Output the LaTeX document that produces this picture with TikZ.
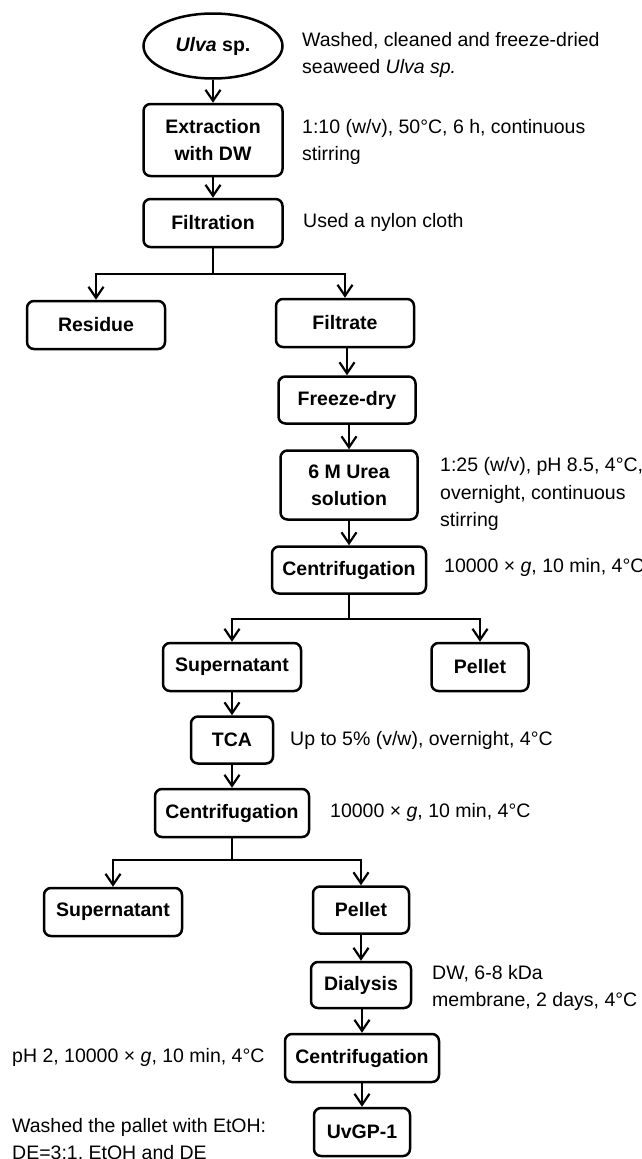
\documentclass[tikz,border=0pt]{standalone}
\usepackage{fontspec}
\setmainfont{Liberation Sans}
\usetikzlibrary{arrows.meta,shapes.geometric}
\begin{document}
\begin{tikzpicture}[x=1pt,y=-1pt,
  box/.style={draw,line width=2.5pt,rounded corners=7pt,inner sep=0pt,align=center,font=\bfseries\fontsize{19.5}{27}\selectfont},
  oval/.style={draw,ellipse,line width=2.5pt,inner sep=0pt,align=center,font=\bfseries\fontsize{19.5}{27}\selectfont},
  note/.style={anchor=west,inner sep=0pt,align=left,font=\fontsize{19.5}{27.5}\selectfont},
  arr/.style={line width=2.2pt,-{Straight Barb[length=11pt,width=15pt,line width=2.2pt]}},
  ln/.style={line width=2.2pt}]
\useasboundingbox (0,0) rectangle (642,1159);

% boxes
\node[oval,minimum width=139pt,minimum height=65pt] (ulva) at (213,46) {\textit{Ulva} sp.};
\node[box,minimum width=139pt,minimum height=72pt] (extr) at (213,140) {Extraction\\with DW};
\node[box,minimum width=139pt,minimum height=48pt] (filt) at (213,223) {Filtration};
\node[box,minimum width=138pt,minimum height=48pt] (resid) at (96,325) {Residue};
\node[box,minimum width=138pt,minimum height=48pt] (filtr) at (345,323) {Filtrate};
\node[box,minimum width=137pt,minimum height=47pt] (fdry) at (347,400) {Freeze-dry};
\node[box,minimum width=137pt,minimum height=69pt] (urea) at (349,485) {6 M Urea\\solution};
\node[box,minimum width=154pt,minimum height=47pt] (cent1) at (349,570) {Centrifugation};
\node[box,minimum width=138pt,minimum height=48pt] (sup1) at (232,667) {Supernatant};
\node[box,minimum width=97pt,minimum height=48pt] (pel1) at (480,667) {Pellet};
\node[box,minimum width=82pt,minimum height=47pt] (tca) at (232,740) {TCA};
\node[box,minimum width=154pt,minimum height=48pt] (cent2) at (232,813) {Centrifugation};
\node[box,minimum width=138pt,minimum height=48pt] (sup2) at (113,912) {Supernatant};
\node[box,minimum width=96pt,minimum height=47pt] (pel2) at (361,910) {Pellet};
\node[box,minimum width=100pt,minimum height=46pt] (dial) at (361,985) {Dialysis};
\node[box,minimum width=154pt,minimum height=48pt] (cent3) at (362,1058) {Centrifugation};
\node[box,minimum width=96pt,minimum height=48pt] (uvgp) at (362,1132) {UvGP-1};

% notes
\node[note] (n1) at (302,55) {Washed, cleaned and freeze-dried\\seaweed \textit{Ulva sp.}};
\node[note] (n2) at (302,142) {1:10 (w/v), 50°C, 6 h, continuous\\stirring};
\node[note] (n3) at (303,222) {Used a nylon cloth};
\node[note] (n4) at (440,494) {1:25 (w/v), pH 8.5, 4°C,\\overnight, continuous\\stirring};
\node[note] (n5) at (444,567) {10000 × \textit{g}, 10 min, 4°C};
\node[note] (n6) at (290,740) {Up to 5\% (v/w), overnight, 4°C};
\node[note] (n7) at (330,812) {10000 × \textit{g}, 10 min, 4°C};
\node[note] (n8) at (432,988) {DW, 6-8 kDa\\membrane, 2 days, 4°C};
\node[note] (n9) at (12,1057) {pH 2, 10000 × \textit{g}, 10 min, 4°C};
\node[note,anchor=north west] (n10) at (12,1118) {Washed the pallet with EtOH:\\DE=3:1, EtOH and DE};

% connectors
\draw[arr] (ulva) -- (extr);
\draw[arr] (extr) -- (filt);
\draw[ln] (filt.south) -- ++(0,26) coordinate (j1);
\draw[arr] (j1) -| (resid.north);
\draw[arr] (j1) -| (filtr.north);
\draw[arr] (filtr.south -| fdry.north) -- (fdry.north);
\draw[arr] (fdry.south -| urea.north) -- (urea.north);
\draw[arr] (urea) -- (cent1);
\draw[ln] (cent1.south) -- ++(0,24) coordinate (j2);
\draw[arr] (j2) -| (sup1.north);
\draw[arr] (j2) -| (pel1.north);
\draw[arr] (sup1) -- (tca);
\draw[arr] (tca) -- (cent2);
\draw[ln] (cent2.south) -- ++(0,22) coordinate (j3);
\draw[arr] (j3) -| (sup2.north);
\draw[arr] (j3) -| (pel2.north);
\draw[arr] (pel2) -- (dial);
\draw[arr] (dial.south -| cent3.north) -- (cent3.north);
\draw[arr] (cent3) -- (uvgp);
\end{tikzpicture}
\end{document}
